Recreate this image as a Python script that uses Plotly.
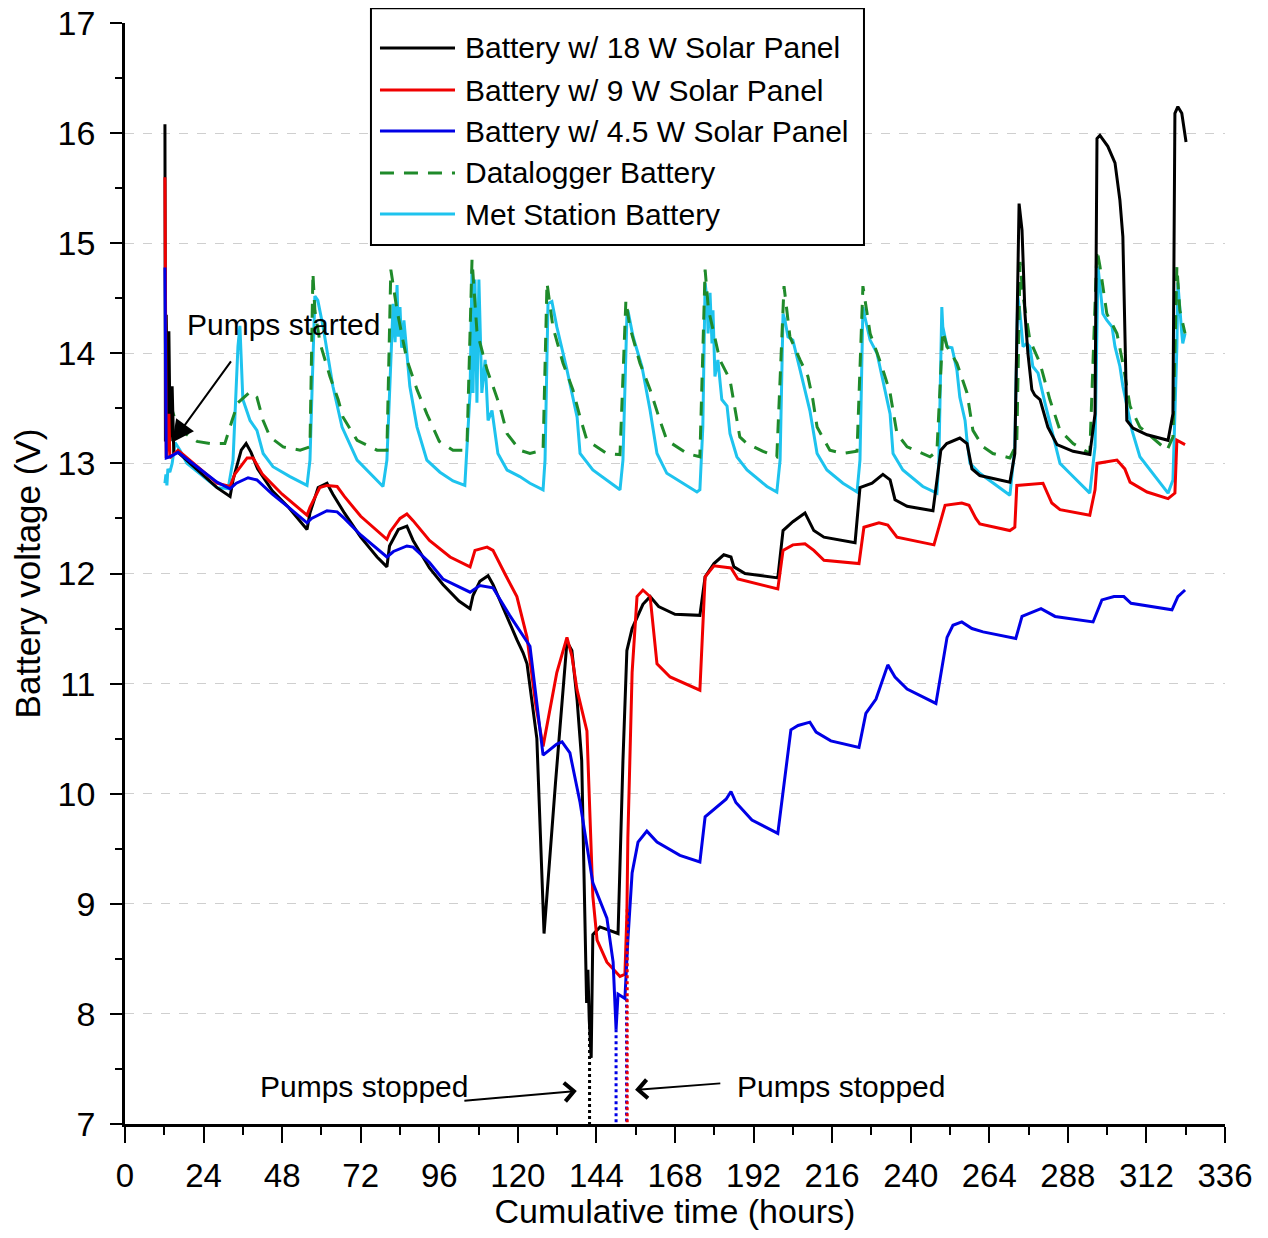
import plotly.graph_objects as go

# (hours, volts)
batt_18w = [(12.2,16.08),(12.35,13.2),(12.6,14.35),(13.0,13.3),(13.4,14.2),(13.8,13.2),(14.4,13.7),(14.9,13.1),
            (16.2,13.1),(28.1,12.78),(32.1,12.7),(33.0,12.85),(35.5,13.12),(37.0,13.18),(38.5,13.1),(40.5,12.95),
            (45,12.75),(50,12.6),(55.6,12.4),(56.5,12.55),(59.0,12.78),(61.7,12.82),(63.5,12.72),(67,12.55),
            (72,12.33),(77,12.15),(80.0,12.06),(80.8,12.25),(83.5,12.4),(86.1,12.43),(88,12.3),(93,12.05),
            (97.1,11.9),(102,11.75),(105.4,11.68),(106.3,11.8),(108.4,11.93),(110.9,11.98),(112.4,11.9),
            (116,11.65),(119.7,11.4),(121.6,11.28),(122.8,11.18),(125.8,10.5),(128.0,8.73),(131.5,10.1),
            (135.0,11.38),(136.5,11.3),(138.1,10.85),(139.5,10.3),(141.0,8.1),(141.4,8.4),(141.8,7.95),
            (142.4,7.6),(142.9,8.72),(145.1,8.79),(150.6,8.73),(152.1,10.3),(153.3,11.3),(154.9,11.5),
            (158.2,11.72),(160.4,11.79),(163,11.7),(168,11.63),(175.6,11.62),(177.2,11.97),(179.9,12.09),
            (182.9,12.17),(185.1,12.15),(186.0,12.06),(189.4,12.0),(199.4,11.96),(201.0,12.39),(204.0,12.47),
            (207.7,12.55),(210.4,12.39),(213.5,12.33),(223.0,12.28),(224.5,12.78),(228.2,12.82),(231.5,12.9),
            (233.7,12.85),(235.2,12.67),(238.9,12.61),(246.8,12.57),(249.2,13.12),(251,13.18),(255.0,13.23),
            (257.2,13.18),(258.7,12.95),(261.1,12.89),(270.3,12.83),(271.8,13.09),(273.1,15.36),(274.0,15.12),
            (274.9,14.36),(275.8,14.0),(277.0,13.67),(277.9,13.62),(279.5,13.58),(281.9,13.33),(284.7,13.17),
            (289.6,13.11),(294.7,13.08),(296.3,13.45),(296.9,15.95),(297.8,15.98),(300.2,15.88),(302.4,15.73),
            (303.9,15.39),(304.8,15.06),(306.0,13.39),(307.9,13.32),(312.2,13.26),(318.6,13.21),(320.1,13.45),
            (320.7,16.18),(321.6,16.24),(322.8,16.18),(324.1,15.92)]

batt_9w = [(12.2,15.6),(12.35,13.4),(12.6,13.05),(13.4,13.45),(13.7,13.05),(16.2,13.12),(28.1,12.82),
           (32.1,12.79),(33.5,12.9),(37.3,13.05),(39.1,13.05),(42,12.9),(48,12.72),(55.6,12.53),(56.5,12.6),
           (59.5,12.78),(61.7,12.8),(64.8,12.79),(67,12.7),(72,12.52),(80.0,12.31),(81,12.38),(84,12.5),
           (86.1,12.54),(88,12.48),(93,12.3),(99.3,12.15),(105.4,12.06),(106.9,12.21),(110.6,12.24),
           (112.4,12.21),(116,12.0),(119.7,11.79),(122.8,11.42),(125.5,10.8),(127.7,10.43),(131.9,11.1),
           (135.0,11.42),(136.5,11.25),(138.1,10.94),(141.1,10.57),(142.9,9.07),(144.2,8.67),(147.2,8.47),
           (151.2,8.34),(152.7,8.36),(153.3,8.9),(153.6,9.6),(154.9,11.1),(156.4,11.79),(158.2,11.85),
           (160.4,11.79),(162.5,11.18),(166.5,11.06),(175.6,10.94),(177.2,11.97),(179.9,12.07),(185.1,12.05),
           (187.2,11.95),(199.4,11.86),(201.0,12.21),(204.0,12.26),(207.7,12.27),(210.4,12.21),(213.5,12.12),
           (224.2,12.09),(225.7,12.42),(230.3,12.46),(233.0,12.44),(235.8,12.33),(247.1,12.26),(250.5,12.62),
           (255.6,12.64),(257.8,12.62),(259.9,12.5),(261.1,12.45),(270.3,12.39),(271.8,12.42),(272.4,12.8),
           (280.4,12.82),(283.1,12.64),(285.6,12.58),(294.7,12.53),(296.3,12.76),(296.9,13.0),(303.0,13.03),
           (305.4,12.95),(307.0,12.83),(312.2,12.74),(318.6,12.68),(320.7,12.73),(321.3,13.21),(323.8,13.17)]

batt_45w = [(12.2,14.78),(12.4,13.1),(12.6,13.05),(13.7,13.06),(16.2,13.1),(28.1,12.83),(32.1,12.77),
            (34,12.82),(37.6,12.87),(40.3,12.85),(45,12.72),(50,12.6),(55.6,12.46),(57,12.5),(61.7,12.57),
            (64.8,12.56),(67,12.5),(72,12.35),(80.0,12.15),(82,12.2),(86.1,12.25),(88.0,12.24),(93,12.1),
            (97.1,11.95),(105.4,11.83),(108.4,11.89),(112.4,11.87),(117.5,11.62),(123.7,11.34),(127.7,10.35),
            (131.9,10.45),(133.5,10.47),(135.9,10.37),(139.0,9.92),(142.9,9.19),(147.2,8.87),(149.1,8.47),
            (150.0,7.86),(150.6,8.18),(152.7,8.14),(153.6,8.67),(154.9,9.28),(156.7,9.56),(159.4,9.66),
            (162.5,9.56),(169.5,9.44),(175.6,9.38),(177.2,9.79),(179.9,9.86),(183.6,9.95),(185.1,10.02),
            (186.6,9.92),(191.5,9.76),(199.4,9.64),(203.4,10.58),(205.6,10.62),(209.2,10.65),(211.1,10.56),
            (215.6,10.48),(224.2,10.42),(226.3,10.73),(229.4,10.86),(233.0,11.17),(235.2,11.06),(238.9,10.95),
            (247.7,10.82),(251.1,11.42),(252.9,11.53),(255.6,11.56),(258.7,11.5),(262.1,11.47),(272.1,11.41),
            (274.0,11.61),(279.8,11.68),(284.1,11.61),(295.7,11.56),(298.4,11.76),(302.1,11.79),(305.1,11.79),
            (307.3,11.73),(319.8,11.67),(321.6,11.79),(323.8,11.85)]

datalogger = [(13.7,13.55),(15.3,13.4),(18,13.28),(22,13.2),(26,13.18),(30.5,13.18),(32.7,13.39),(34.5,13.55),
              (38.2,13.65),(40.3,13.6),(42.2,13.39),(44.3,13.24),(48.3,13.15),(53.5,13.12),(56.5,13.15),
              (57.4,14.73),(58.0,14.39),(59.6,14.09),(62.6,13.79),(65.1,13.58),(66.6,13.42),(70.9,13.21),
              (77.0,13.12),(80.0,13.12),(81.2,14.76),(83.1,14.39),(86.1,13.94),(89.2,13.67),(92.2,13.45),
              (96,13.2),(100.2,13.12),(103.2,13.12),(104.5,13.2),(106.0,14.85),(107.5,14.2),(110.6,13.85),
              (112.4,13.7),(114.5,13.52),(116.7,13.27),(120.6,13.12),(123.7,13.09),(127.7,13.12),(128.9,14.64),
              (130.7,14.24),(133.8,13.91),(136.8,13.67),(139.0,13.42),(141.1,13.21),(147.2,13.09),(151.2,13.08),
              (153.0,14.48),(154.2,14.24),(157.3,13.91),(160.4,13.67),(163.4,13.39),(165.5,13.21),(171.7,13.09),
              (175.6,13.06),(177.2,14.76),(178.2,14.4),(181.7,13.94),(184.8,13.76),(187.8,13.24),(190.0,13.18),
              (194.9,13.11),(199.1,13.06),(201.3,14.61),(203.1,14.15),(206.2,13.94),(208.6,13.79),(210.1,13.58),
              (211.4,13.33),(215.3,13.12),(219.3,13.09),(223.6,13.11),(225.4,14.61),(227.6,14.18),(231.2,13.88),
              (233.7,13.64),(235.8,13.27),(238.9,13.15),(245.9,13.06),(248.0,13.11),(249.8,14.2),(251.1,14.06),
              (254.1,13.91),(257.2,13.64),(259.0,13.3),(262.1,13.15),(265.1,13.09),(270.3,13.05),(272.4,13.18),
              (273.4,14.83),(274.3,14.52),(276.4,14.12),(279.5,13.91),(282.5,13.58),(285.6,13.3),(289.6,13.18),
              (294.7,13.09),(296.9,14.94),(297.8,14.79),(299.9,14.36),(303.0,14.18),(304.8,13.91),(307.0,13.52),
              (310.0,13.33),(314.0,13.23),(318.3,13.12),(320.1,13.24),(321.3,14.79),(322.2,14.39),(323.8,14.18)]

met_station = [(12.2,12.82),(12.5,12.9),(12.8,12.8),(13.1,12.95),(13.7,12.92),(14.4,13.0),(15.3,13.19),
               (16.8,13.12),(18.9,13.0),(28.1,12.78),(31.5,12.77),(33.0,13.03),(34.5,14.06),(35.1,14.25),
               (36.0,13.58),(38.2,13.39),(40.3,13.3),(42.2,13.09),(45.2,12.97),(50.4,12.88),(55.6,12.8),
               (56.5,13.03),(58.0,14.52),(58.9,14.48),(60.5,14.24),(63.5,13.7),(66.3,13.33),(70.9,13.03),
               (78.8,12.79),(80.0,13.03),(81.9,14.45),(82.5,14.1),(83.1,14.62),(83.5,14.15),(84.0,14.42),
               (84.5,14.05),(85.2,14.3),(87.0,13.7),(89.2,13.33),(92.2,13.03),(96.2,12.92),(100.2,12.84),
               (103.8,12.8),(105.4,13.64),(106.0,14.76),(106.3,13.64),(106.9,14.67),(107.5,13.55),(108.1,14.67),
               (109.0,13.64),(110.0,13.94),(110.9,13.39),(112.1,13.48),(113.9,13.09),(116.7,12.94),(120.6,12.88),
               (123.7,12.82),(127.7,12.76),(128.3,13.03),(129.2,14.45),(130.4,14.47),(131.9,14.24),(135.0,13.85),
               (138.1,13.42),(139.0,13.09),(142.9,12.94),(151.2,12.76),(152.1,13.03),(153.3,14.33),(153.6,14.39),
               (155.2,14.15),(157.9,13.88),(160.4,13.48),(162.5,13.09),(165.5,12.91),(171.7,12.79),(174.7,12.74),
               (175.6,12.76),(176.5,13.33),(177.2,14.64),(177.8,14.48),(178.1,14.18),(178.7,14.55),(179.3,14.09),
               (179.6,14.39),(180.2,13.79),(181.1,13.94),(182.3,13.58),(183.9,13.52),(184.8,13.27),(186.9,13.06),
               (190.0,12.94),(196.1,12.79),(199.1,12.74),(200.1,13.03),(201.0,14.36),(201.6,14.3),(202.5,14.15),
               (204.0,14.12),(206.2,13.85),(209.2,13.48),(211.4,13.09),(214.4,12.94),(219.3,12.82),(223.6,12.74),
               (224.5,13.03),(225.4,14.42),(226.0,14.33),(227.6,14.12),(229.7,14.0),(231.5,13.76),(233.7,13.45),
               (234.6,13.09),(237.6,12.94),(243.7,12.79),(248.0,12.73),(248.6,13.03),(249.5,14.42),(249.8,14.24),
               (251.1,14.06),(252.6,14.05),(254.1,13.85),(255.0,13.6),(256.6,13.39),(257.2,13.21),(258.1,13.0),
               (261.1,12.91),(270.3,12.71),(271.8,13.15),(272.7,14.52),(273.4,14.36),(274.3,14.06),(275.5,14.09),
               (276.4,14.06),(277.3,13.88),(278.9,13.82),(281.0,13.55),(283.4,13.27),(285.6,13.0),(288.6,12.91),
               (294.7,12.73),(296.3,13.15),(297.2,14.79),(297.8,14.61),(298.7,14.36),(299.9,14.3),(301.5,14.24),
               (302.4,14.06),(303.9,13.88),(304.8,13.7),(306.0,13.52),(307.6,13.3),(310.0,13.06),(314.0,12.91),
               (318.6,12.73),(320.1,12.85),(321.3,14.06),(321.6,14.64),(322.2,14.36),(322.8,14.18),(323.1,14.09),
               (323.8,14.18)]

# dotted drops to 7 V where the pumps stopped: (hour, volts at top)
stop_18w = (141.9, 8.0)
stop_9w = (153.4, 8.95)
stop_45w = [(150.0, 7.86), (153.2, 8.14)]

names = ["Battery w/ 18 W Solar Panel", "Battery w/ 9 W Solar Panel", "Battery w/ 4.5 W Solar Panel",
         "Datalogger Battery", "Met Station Battery"]
colors = ["#000000", "#f00000", "#0000e6", "#1f8a2a", "#1ec3ee"]
dashes = ["solid", "solid", "solid", "14px,10px", "solid"]

FONT = "Arial, Liberation Sans, sans-serif"
LW = 3

fig = go.Figure()

# draw order: met station and datalogger under the battery lines
order = [4, 3, 0, 1, 2]
series = [batt_18w, batt_9w, batt_45w, datalogger, met_station]
for i in order:
    data = series[i]
    fig.add_trace(go.Scatter(x=[p[0] for p in data], y=[p[1] for p in data], mode="lines", name=names[i],
                             line=dict(color=colors[i], width=LW, dash=dashes[i]), showlegend=False))

for (t, v), c in [(stop_18w, colors[0]), (stop_45w[0], colors[2]), (stop_45w[1], colors[2]), (stop_9w, colors[1])]:
    fig.add_trace(go.Scatter(x=[t, t], y=[v, 7.0], mode="lines", showlegend=False,
                             line=dict(color=c, width=3, dash="dot")))

# hand-built legend box, so the sample lines match the original length
lx0, lx1, ltext = 0.2318, 0.3, 0.3073
rows = [0.9773, 0.9391, 0.9019, 0.8638, 0.8265]
fig.add_shape(type="rect", xref="paper", yref="paper", x0=0.2236, x1=0.6718, y0=0.7984, y1=1.0135,
              line=dict(color="black", width=2), fillcolor="white", layer="above")
for i, y in enumerate(rows):
    fig.add_shape(type="line", xref="paper", yref="paper", x0=lx0, x1=lx1, y0=y, y1=y, layer="above",
                  line=dict(color=colors[i], width=LW, dash=dashes[i]))
    fig.add_annotation(xref="paper", yref="paper", x=ltext, y=y, text=names[i], showarrow=False,
                       xanchor="left", yanchor="middle", font=dict(size=30, color="black", family=FONT))

# annotations
afont = dict(size=30, color="black", family=FONT)
fig.add_annotation(x=48.3, y=14.26, text="Pumps started", showarrow=False, font=afont)
fig.add_annotation(x=14.4, y=13.19, ax=32.7, ay=13.94, axref="x", ayref="y", text="", showarrow=True,
                   arrowhead=2, arrowsize=2.2, arrowwidth=2, arrowcolor="black")
fig.add_annotation(x=73.0, y=7.34, text="Pumps stopped", showarrow=False, font=afont)
fig.add_annotation(x=138.0, y=7.3, ax=103.2, ay=7.21, axref="x", ayref="y", text="", showarrow=True,
                   arrowhead=4, arrowsize=1.8, arrowwidth=2, arrowcolor="black")
fig.add_annotation(x=218.7, y=7.34, text="Pumps stopped", showarrow=False, font=afont)
fig.add_annotation(x=155.8, y=7.31, ax=182.3, ay=7.37, axref="x", ayref="y", text="", showarrow=True,
                   arrowhead=4, arrowsize=1.8, arrowwidth=2, arrowcolor="black")

# page has an 8 px body margin, so the figure is shifted and shrunk by that much
fig.update_layout(
    width=1252, height=1222,
    margin=dict(l=117, r=35, t=15, b=106),
    paper_bgcolor="white", plot_bgcolor="white",
    font=dict(family=FONT, color="black", size=34),
    showlegend=False,
)
fig.update_xaxes(range=[0, 336], tick0=0, dtick=24, showgrid=False, zeroline=False, automargin=False,
                 showline=True, linecolor="black", linewidth=2.5, ticklabeloverflow="allow",
                 ticks="outside", ticklen=16, tickwidth=2, tickcolor="black", ticklabelstandoff=5,
                 minor=dict(dtick=12, ticks="outside", ticklen=8, tickwidth=2, tickcolor="black"),
                 tickfont=dict(size=33), title=dict(text="Cumulative time (hours)", font=dict(size=34), standoff=10))
fig.update_yaxes(range=[7, 17], tick0=7, dtick=1, showgrid=True, gridcolor="#cfcfcf", griddash="dash",
                 gridwidth=1, zeroline=False, automargin=False, ticklabeloverflow="allow",
                 showline=True, linecolor="black", linewidth=2.5,
                 ticks="outside", ticklen=12, tickwidth=2, tickcolor="black", ticklabelstandoff=8,
                 minor=dict(dtick=0.5, ticks="outside", ticklen=7, tickwidth=2, tickcolor="black", showgrid=False),
                 tickfont=dict(size=34), title=dict(text="Battery voltage (V)", font=dict(size=35), standoff=8))

fig.write_html("out.html")
